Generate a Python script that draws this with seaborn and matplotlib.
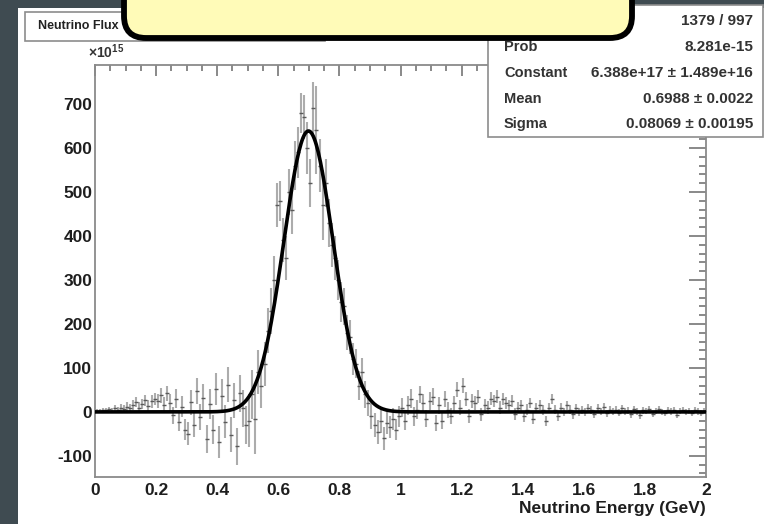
import numpy as np
import pandas as pd
import matplotlib
matplotlib.use("Agg")
import matplotlib.pyplot as plt
import seaborn as sns
from matplotlib.patches import Rectangle, FancyBboxPatch
from matplotlib.transforms import IdentityTransform
from matplotlib.ticker import MultipleLocator, FixedLocator

# ---------------- data (units of 1e15) ----------------
bin_centers = [round(0.005 + 0.01 * i, 3) for i in range(200)]

flux = [
    2, 3, 5, 4, 6, 3, 8, 5, 10, 7,
    12, 8, 15, 22, 10, 18, 26, 14, 24, 30,
    25, 38, 15, 42, 20, -8, 30, -22, 12, -40,
    -50, 22, -30, 48, -12, 32, -62, 18, -40, 52,
    -68, 36, -22, 62, -52, 26, -78, 42, 8, -30,
    -20, 40, -15, 90, 60, 110, 185, 230, 300, 470,
    480, 390, 350, 500, 460, 560, 590, 680, 670, 600,
    520, 690, 640, 560, 470, 520, 430, 380, 350, 300,
    250, 240, 180, 170, 120, 110, 60, 90, 40, 20,
    -10, -30, -45, -20, -60, -25, -35, -15, -40, -10,
    10, -20, 15, 30, -10, 5, 40, 20, -15, 25,
    35, -25, 15, -20, 30, 5, -10, 20, 50, 10,
    60, 30, -10, 25, 20, 35, -5, 15, 10, 30,
    25, 35, 10, 30, 20, 15, 25, -5, 10, 15,
    -10, 5, 20, -15, 10, 15, 5, -20, 10, 30,
    5, -10, 10, 0, 15, 5, -5, 10, 0, 5,
    0, 10, 5, -5, 8, 0, 12, -3, 5, 0,
    5, -2, 8, 0, 3, -5, 6, 2, -8, 4,
    3, 6, -4, 2, 7, 0, -3, 5, 1, 4,
    -6, 2, 5, 0, 3, -2, 4, 1, -3, 2,
]

flux_err = [
    4, 4, 5, 5, 6, 6, 7, 7, 8, 8,
    10, 10, 11, 11, 12, 12, 13, 13, 14, 14,
    16, 17, 18, 18, 20, 20, 22, 22, 24, 25,
    26, 28, 28, 30, 30, 32, 32, 34, 34, 36,
    36, 38, 38, 40, 40, 40, 42, 42, 42, 44,
    60, 55, 80, 50, 50, 50, 52, 52, 54, 50,
    45, 50, 50, 52, 55, 55, 58, 45, 50, 60,
    55, 60, 100, 60, 80, 55, 55, 50, 50, 45,
    45, 42, 40, 38, 36, 34, 32, 32, 30, 30,
    28, 28, 27, 27, 26, 26, 25, 25, 24, 24,
    22, 22, 22, 21, 21, 21, 20, 20, 20, 20,
    19, 19, 19, 18, 18, 18, 18, 17, 17, 17,
    17, 16, 16, 16, 16, 15, 15, 15, 15, 15,
    14, 14, 14, 14, 13, 13, 13, 13, 13, 12,
    12, 12, 12, 12, 11, 11, 11, 11, 11, 11,
    10, 10, 10, 10, 10, 10, 10, 9, 9, 9,
    9, 9, 9, 9, 9, 8, 8, 8, 8, 8,
    8, 8, 8, 8, 8, 8, 8, 8, 8, 8,
    7, 7, 7, 7, 7, 7, 7, 7, 7, 7,
    7, 7, 7, 7, 7, 7, 7, 7, 7, 7,
]

# Gaussian fit parameters shown in the stats box
fit_constant = 6.388e17 / 1e15
fit_mean = 0.6988
fit_sigma = 0.08069

stat_labels = ["χ² / ndf", "Prob", "Constant", "Mean", "Sigma"]
stat_values = ["1379 / 997", "8.281e-15", "6.388e+17 ± 1.489e+16",
               "0.6988 ± 0.0022", "0.08069 ± 0.00195"]

x_ticks = [0, 0.2, 0.4, 0.6, 0.8, 1.0, 1.2, 1.4, 1.6, 1.8, 2.0]
x_ticklabels = ["0", "0.2", "0.4", "0.6", "0.8", "1", "1.2", "1.4", "1.6", "1.8", "2"]
y_ticks = [-100, 0, 100, 200, 300, 400, 500, 600, 700]
y_ticklabels = ["-100", "0", "100", "200", "300", "400", "500", "600", "700"]

title_text = "Neutrino Flux"
x_label = "Neutrino Energy (GeV)"

# ---------------- figure ----------------
sns.set_theme(style="white")
plt.rcParams["font.family"] = ["Liberation Sans", "DejaVu Sans"]
plt.rcParams["font.weight"] = "bold"
plt.rcParams["mathtext.fontset"] = "custom"
plt.rcParams["mathtext.rm"] = "Liberation Sans:bold"

W, H = 764, 524
fig = plt.figure(figsize=(W / 100, H / 100), dpi=100)
fig.patch.set_facecolor("#3f4b51")

def px(x, y):
    return (x, H - y)

ident = IdentityTransform()

# white canvas
fig.add_artist(Rectangle(px(18, H + 2), W - 18 + 2, H - 8 + 2, transform=ident,
                         facecolor="white", edgecolor="none", zorder=0))

ax_top, ax_bot = 64.5, 477
ax = fig.add_axes([95 / W, 1 - ax_bot / H, (706 - 95) / W, (ax_bot - ax_top) / H])
ax.set_facecolor("white")

df = pd.DataFrame({"energy": bin_centers, "flux": flux, "err": flux_err})
ax.errorbar(df["energy"], df["flux"], yerr=df["err"], fmt="none",
            ecolor="#acacac", elinewidth=1.5, zorder=2)
sns.scatterplot(data=df, x="energy", y="flux", marker="_", s=12, color="#5a5a5a",
                linewidth=1.0, ax=ax, zorder=3, legend=False)

fit_x = np.linspace(0, 2, 600)
fit_y = fit_constant * np.exp(-0.5 * ((fit_x - fit_mean) / fit_sigma) ** 2)
sns.lineplot(x=fit_x, y=fit_y, color="black", linewidth=2.6, ax=ax, zorder=4)

ax.set_xlim(0, 2)
ax.set_ylim(-148, 790)
ax.xaxis.set_major_locator(FixedLocator(x_ticks))
ax.set_xticklabels(x_ticklabels)
ax.yaxis.set_major_locator(FixedLocator(y_ticks))
ax.set_yticklabels(y_ticklabels)
ax.xaxis.set_minor_locator(MultipleLocator(0.05))
ax.yaxis.set_minor_locator(MultipleLocator(20))
ax.set_xlabel("")
ax.set_ylabel("")

tick_col = "#6a6a6a"
ax.tick_params(axis="both", which="both", direction="in", top=True, right=True,
               color=tick_col, width=1.1, labelcolor="#1e1e1e", labelsize=12.5)
ax.tick_params(axis="x", which="major", length=8, pad=4)
ax.tick_params(axis="x", which="minor", length=4)
ax.tick_params(axis="y", which="major", length=12, pad=2)
ax.tick_params(axis="y", which="minor", length=5)
for lab in ax.get_xticklabels() + ax.get_yticklabels():
    lab.set_fontweight("bold")
for s in ax.spines.values():
    s.set_color("#8a8a8a")
    s.set_linewidth(1.3)

# axis label and exponent
fig.text(706 / W, 1 - 508 / H, x_label, ha="right", va="center",
         fontsize=12.5, fontweight="bold", color="#1e1e1e")
fig.text(88 / W, 1 - 58 / H, r"$\times10^{15}$", ha="left", va="baseline",
         fontsize=10, color="#333333")

# title box
fig.add_artist(Rectangle(px(25, 41), 300, 29, transform=ident,
                         facecolor="white", edgecolor="#8c8c8c", linewidth=1.2, zorder=5))
fig.text(38 / W, 1 - 26 / H, title_text, ha="left", va="center",
         fontsize=9, fontweight="bold", color="#222222", zorder=6)

# stats box
fig.add_artist(Rectangle(px(488, 137), 275, 132, transform=ident,
                         facecolor="white", edgecolor="#8c8c8c", linewidth=1.2, zorder=5))
row_y = [21, 47, 73, 99, 124]
for lab, val, yy in zip(stat_labels, stat_values, row_y):
    fig.text(504 / W, 1 - yy / H, lab, ha="left", va="center", fontsize=10.5,
             fontweight="bold", color="#333333", zorder=6)
    fig.text(753 / W, 1 - yy / H, val, ha="right", va="center", fontsize=11,
             fontweight="bold", color="#333333", zorder=6)

# yellow callout
fig.add_artist(FancyBboxPatch(px(124, 38), 508, 80, transform=ident,
                              boxstyle="round,pad=0,rounding_size=22",
                              facecolor="#fffbb8", edgecolor="black",
                              linewidth=4.2, zorder=10))

fig.savefig("out.png", dpi=100, facecolor=fig.get_facecolor())
